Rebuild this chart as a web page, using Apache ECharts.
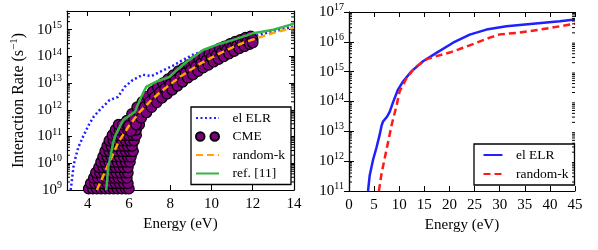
<!DOCTYPE html>
<html><head><meta charset="utf-8">
<script src="https://cdn.jsdelivr.net/npm/echarts@6/dist/echarts.min.js"></script>
<style>html,body{margin:0;padding:0;background:#fff}#c{width:598px;height:250px}</style>
</head><body><div id="c"></div>
<script>
// ===== Left panel (energy in eV, rate given as log10 of s^-1) =====
const elrEnergyL = [3.18,3.33,3.55,3.78,4.05,4.3,4.59,5.07,5.46,5.8,6.19,6.67,7.11,7.5,8.13,8.62,9.1,9.59,10.08,10.6,11.2,12.0,12.8,13.4,14.0];
const elrLogRateL = [9.0,9.97,10.6,11.0,11.43,11.75,12.0,12.37,12.48,12.86,13.12,13.31,13.27,13.42,13.65,13.87,14.06,14.2,14.37,14.45,14.58,14.75,14.9,15.0,15.12];

const randkEnergyL = [4.45,5.0,5.5,6.0,6.5,7.0,7.5,8.0,8.5,9.0,9.5,10.0,10.5,11.0,11.5,12.0,12.5,13.0,13.5,14.0];
const randkLogRateL = [9.0,9.95,10.8,11.4,11.9,12.3,12.65,12.95,13.25,13.5,13.75,13.95,14.15,14.33,14.5,14.63,14.76,14.88,14.98,15.07];

const refEnergyL = [4.9,4.95,5.0,5.12,5.23,5.35,5.48,5.72,5.95,6.29,6.53,6.7,6.85,7.34,7.99,8.23,8.8,9.6,10.25,11.06,12.03,13.0,13.81,14.0];
const refLogRateL = [9.0,9.4,9.87,10.3,10.75,11.05,11.25,11.62,11.74,11.93,12.37,12.65,12.87,13.06,13.24,13.43,13.8,14.24,14.43,14.62,14.87,15.0,15.18,15.24];

const cmeEnergy = [
  4.05,4.25,4.45,4.65,4.85,5.05,5.25,5.45,5.65,5.85,6.0,
  4.15,4.35,4.55,4.75,4.95,5.15,5.35,5.55,5.75,5.95,
  4.3,4.5,4.7,4.9,5.1,5.3,5.5,5.7,5.9,
  4.4,4.6,4.8,5.0,5.2,5.4,5.6,5.8,5.95,
  4.55,4.75,4.95,5.15,5.35,5.55,5.75,5.95,
  4.65,4.85,5.05,5.25,5.45,5.65,5.85,6.05,
  4.75,4.95,5.15,5.35,5.55,5.75,5.95,6.1,
  4.85,5.05,5.25,5.45,5.65,5.85,6.05,6.2,
  4.95,5.15,5.35,5.55,5.75,5.95,6.15,
  5.05,5.25,5.45,5.65,5.85,6.05,6.25,
  5.2,5.4,5.6,5.8,6.0,6.2,6.35,
  5.35,5.55,5.75,5.95,6.15,6.35,
  5.5,5.7,5.9,6.1,6.3,6.5,
  5.9,6.0,6.1, 6.15,6.25,6.35, 6.4,6.5,6.6, 6.65,6.75,6.85, 6.9,7.0,7.1,
  7.15,7.25,7.35, 7.4,7.5,7.6, 7.65,7.75,7.85, 7.9,8.0,8.1, 8.15,8.25,8.35,
  8.4,8.5,8.6, 8.65,8.75,8.85, 8.9,9.0,9.1, 9.15,9.25,9.35, 9.4,9.5,9.6,
  9.65,9.75,9.85, 9.9,10.0,10.1, 10.15,10.25,10.35, 10.4,10.5,10.6, 10.65,10.75,10.85,
  10.9,11.0,11.1, 11.15,11.25,11.35, 11.4,11.5,11.6, 11.65,11.75,11.85, 11.9,12.0,12.0
];
const cmeLogRate = [
  9.05,9.05,9.05,9.05,9.05,9.05,9.05,9.05,9.05,9.05,9.05,
  9.25,9.25,9.25,9.25,9.25,9.25,9.25,9.25,9.25,9.25,
  9.45,9.45,9.45,9.45,9.45,9.45,9.45,9.45,9.45,
  9.65,9.65,9.65,9.65,9.65,9.65,9.65,9.65,9.65,
  9.85,9.85,9.85,9.85,9.85,9.85,9.85,9.85,
  10.05,10.05,10.05,10.05,10.05,10.05,10.05,10.05,
  10.25,10.25,10.25,10.25,10.25,10.25,10.25,10.25,
  10.45,10.45,10.45,10.45,10.45,10.45,10.45,10.45,
  10.65,10.65,10.65,10.65,10.65,10.65,10.65,
  10.85,10.85,10.85,10.85,10.85,10.85,10.85,
  11.05,11.05,11.05,11.05,11.05,11.05,11.05,
  11.25,11.25,11.25,11.25,11.25,11.25,
  11.45,11.45,11.45,11.45,11.45,11.45,
  11.6,11.4,11.2, 11.85,11.65,11.45, 12.1,11.9,11.7, 12.3,12.1,11.9, 12.5,12.3,12.1,
  12.68,12.48,12.28, 12.85,12.65,12.45, 13.0,12.8,12.6, 13.15,12.95,12.75, 13.3,13.1,12.9,
  13.45,13.25,13.05, 13.56,13.38,13.2, 13.68,13.5,13.32, 13.8,13.63,13.45, 13.92,13.75,13.58,
  14.02,13.85,13.68, 14.12,13.95,13.8, 14.2,14.05,13.9, 14.3,14.15,14.0, 14.38,14.24,14.1,
  14.47,14.33,14.2, 14.55,14.42,14.3, 14.62,14.5,14.38, 14.7,14.57,14.46, 14.75,14.63,14.52
];

// ===== Right panel =====
const elrEnergyR = [3.79,4.12,4.78,5.46,6.1,6.5,6.78,7.1,7.6,8.1,8.76,9.76,10.76,12.43,14.74,17.41,20.72,24.04,27.37,31.35,36.65,41.97,45];
const elrLogRateR = [11.0,11.52,12.04,12.45,12.88,13.2,13.33,13.27,13.5,13.65,13.97,14.4,14.67,15.01,15.35,15.63,15.97,16.24,16.41,16.52,16.61,16.69,16.75];

const randkEnergyR = [5.95,6.45,6.77,7.11,7.77,8.5,9.44,10.1,11.43,13.09,15.41,17.41,20.06,22.71,25.38,28.03,30.02,34.0,37.99,41.97,45];
const randkLogRateR = [11.0,11.55,11.82,12.1,12.63,13.22,13.84,14.35,14.77,15.13,15.41,15.52,15.64,15.8,15.97,16.14,16.25,16.31,16.41,16.52,16.61];

// ===== Axis ticks =====
const minorMultipliers = [2,3,4,5,6,7,8,9];
const decadesL = [9,10,11,12,13,14,15];
const decadesR = [11,12,13,14,15,16];

const FONT = '"Liberation Serif", "DejaVu Serif", serif';
const pts = (xs, ls) => xs.map((x, i) => [x, Math.pow(10, ls[i])]);

function minorValues(decades, maxV) {
  const out = [];
  decades.forEach(d => minorMultipliers.forEach(m => { const v = m * Math.pow(10, d); if (v < maxV) out.push(v); }));
  return out;
}

function powLabel(v) {
  const l = Math.log10(v);
  const e = Math.round(l);
  if (Math.abs(l - e) > 1e-6) return '';
  return '{b|10}{s|' + e + '}';
}
const powRich = {
  b: { fontFamily: FONT, fontSize: 15, color: '#000' },
  s: { fontFamily: FONT, fontSize: 10, color: '#000', padding: [0, 0, 9, 0] }
};

function xAxisPair(grid, min, max, fmt, interval) {
  const base = {
    gridIndex: grid, type: 'value', min: min, max: max,
    splitLine: { show: false },
    axisLine: { show: true, lineStyle: { color: '#000', width: 1.2 } },
    axisTick: { show: true, inside: true, length: 5, lineStyle: { color: '#000', width: 1 } }
  };
  if (interval) base.interval = interval;
  return [
    Object.assign({}, base, {
      position: 'bottom',
      axisLabel: { formatter: fmt, fontFamily: FONT, fontSize: 15, color: '#000', margin: 7 },
      name: 'Energy (eV)', nameLocation: 'middle', nameGap: 27,
      nameTextStyle: { fontFamily: FONT, fontSize: 15, color: '#000' }
    }),
    Object.assign({}, base, { position: 'top', axisLabel: { show: false } })
  ];
}

function yAxisPair(grid, min, max, named) {
  const base = {
    gridIndex: grid, type: 'log', logBase: 10, min: min, max: max, splitNumber: 7,
    splitLine: { show: false },
    axisLine: { show: true, lineStyle: { color: '#000', width: 1.2 } },
    axisTick: { show: true, inside: true, length: 5, lineStyle: { color: '#000', width: 1 } }
  };
  const left = Object.assign({}, base, {
    position: 'left',
    axisLabel: { formatter: powLabel, rich: powRich, margin: 5 }
  });
  if (named) {
    left.name = 'Interaction Rate (s{s|−1})';
    left.nameLocation = 'middle';
    left.nameGap = 38;
    left.nameTextStyle = { fontFamily: FONT, fontSize: 16, color: '#000',
      rich: { s: { fontFamily: FONT, fontSize: 11, color: '#000', padding: [0, 0, 9, 0] } } };
  }
  return [left, Object.assign({}, base, { position: 'right', axisLabel: { show: false } })];
}

function minorTickSeries(xIdx, yIdx, vals) {
  return {
    type: 'custom', xAxisIndex: xIdx, yAxisIndex: yIdx, silent: true, z: 10,
    data: vals.map(v => [0, v]),
    renderItem: function (params, api) {
      const y = api.coord([api.value(0), api.value(1)])[1];
      const cs = params.coordSys;
      return {
        type: 'group',
        children: [
          { type: 'line', shape: { x1: cs.x, y1: y, x2: cs.x + 3, y2: y }, style: { stroke: '#000', lineWidth: 1 } },
          { type: 'line', shape: { x1: cs.x + cs.width, y1: y, x2: cs.x + cs.width - 3, y2: y }, style: { stroke: '#000', lineWidth: 1 } }
        ]
      };
    }
  };
}

const chart = echarts.init(document.getElementById('c'), null, { renderer: 'canvas' });
const xa0 = xAxisPair(0, 3, 14, v => (v % 2 === 0 ? String(v) : ''));
const xa1 = xAxisPair(1, 0, 45, v => String(v), 5);
const ya0 = yAxisPair(0, 1e9, 5e15, true);
const ya1 = yAxisPair(1, 1e11, 1e17, false);

const twoCircles = 'path://M0,5a5,5 0 1,0 10,0a5,5 0 1,0 -10,0M17,5a5,5 0 1,0 10,0a5,5 0 1,0 -10,0';
const noSym = { opacity: 0, borderWidth: 0 };

chart.setOption({
  animation: false,
  backgroundColor: '#fff',
  grid: [
    { left: 67, top: 11, width: 227, height: 179 },
    { left: 349, top: 12, width: 226, height: 179 }
  ],
  xAxis: [xa0[0], xa0[1], xa1[0], xa1[1]],
  yAxis: [ya0[0], ya0[1], ya1[0], ya1[1]],
  legend: [
    {
      orient: 'vertical', left: 191, top: 107,
      backgroundColor: '#fff', borderColor: '#000', borderWidth: 1.3, borderRadius: 0,
      padding: [4, 6, 4, 4], itemGap: 4.5, itemWidth: 23, itemHeight: 12,
      textStyle: { fontFamily: FONT, fontSize: 13.5, color: '#000', rich: { g: { width: 8.5 } } },
      formatter: n => '{g| }' + n,
      data: [
        { name: 'el ELR', itemStyle: noSym },
        { name: 'CME', icon: twoCircles },
        { name: 'random-k', itemStyle: noSym },
        { name: 'ref. [11]', itemStyle: noSym }
      ]
    },
    {
      orient: 'vertical', left: 474, top: 144,
      backgroundColor: '#fff', borderColor: '#000', borderWidth: 1.3, borderRadius: 0,
      padding: [4, 6, 4, 8.5], itemGap: 5, itemWidth: 19, itemHeight: 12,
      textStyle: { fontFamily: FONT, fontSize: 13.5, color: '#000', rich: { g: { width: 8.5 } } },
      formatter: n => '{g| }' + n.replace(' (R)', ''),
      data: [{ name: 'el ELR (R)', itemStyle: noSym }, { name: 'random-k (R)', itemStyle: noSym }]
    }
  ],
  series: [
    { name: 'el ELR', type: 'line', xAxisIndex: 0, yAxisIndex: 0, symbol: 'none', smooth: false,
      data: pts(elrEnergyL, elrLogRateL), z: 2,
      itemStyle: { color: '#1f1fff' },
      lineStyle: { color: '#1f1fff', width: 2.5, type: [2, 2.5] } },
    { name: 'CME', type: 'scatter', xAxisIndex: 0, yAxisIndex: 0, symbol: 'circle', symbolSize: 10.5, z: 3,
      data: pts(cmeEnergy, cmeLogRate),
      itemStyle: { color: '#800080', borderColor: '#000', borderWidth: 1.2, opacity: 1 } },
    { name: 'random-k', type: 'line', xAxisIndex: 0, yAxisIndex: 0, symbol: 'none', z: 4,
      data: pts(randkEnergyL, randkLogRateL),
      itemStyle: { color: '#ffa500' },
      lineStyle: { color: '#ffa500', width: 2.5, type: [7, 4] } },
    { name: 'ref. [11]', type: 'line', xAxisIndex: 0, yAxisIndex: 0, symbol: 'none', z: 5,
      data: pts(refEnergyL, refLogRateL),
      itemStyle: { color: '#35b545' },
      lineStyle: { color: '#35b545', width: 2.5 } },
    { name: 'el ELR (R)', type: 'line', xAxisIndex: 2, yAxisIndex: 2, symbol: 'none', z: 3,
      data: pts(elrEnergyR, elrLogRateR),
      itemStyle: { color: '#1f1fff' },
      lineStyle: { color: '#1f1fff', width: 2.5 } },
    { name: 'random-k (R)', type: 'line', xAxisIndex: 2, yAxisIndex: 2, symbol: 'none', z: 4,
      data: pts(randkEnergyR, randkLogRateR),
      itemStyle: { color: '#ff1a1a' },
      lineStyle: { color: '#ff1a1a', width: 2.5, type: [7, 4] } },
    minorTickSeries(0, 0, minorValues(decadesL, 5e15)),
    minorTickSeries(2, 2, minorValues(decadesR, 1e17))
  ]
});
</script>
</body></html>
